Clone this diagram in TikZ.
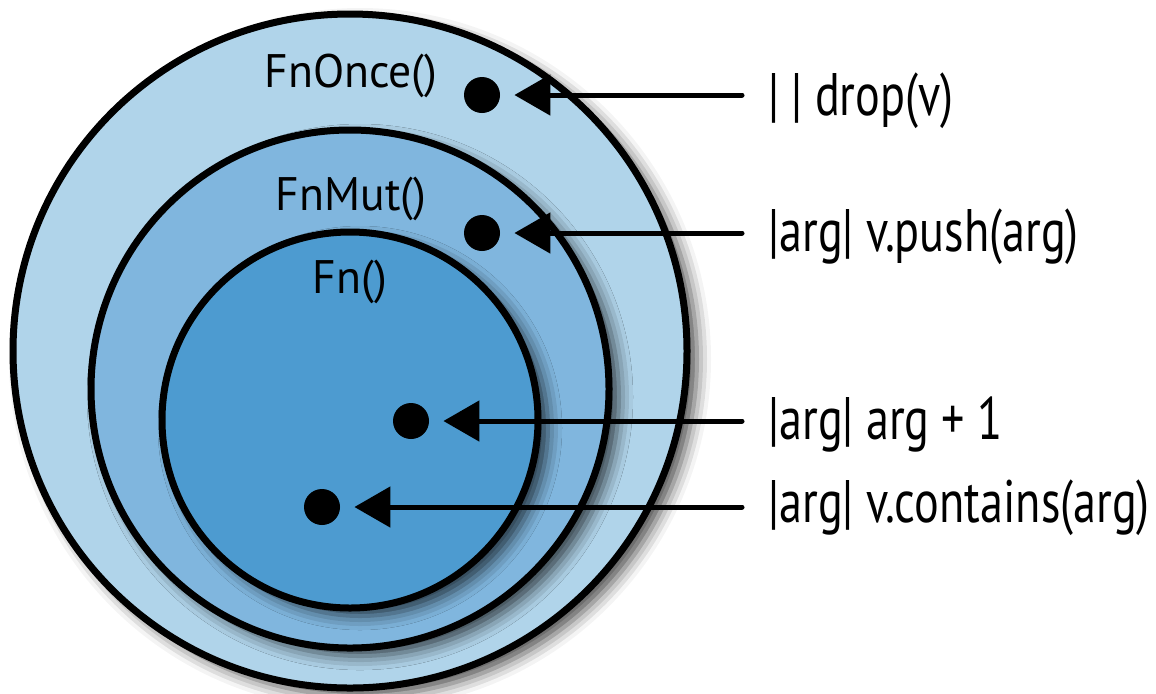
\documentclass[tikz,border=0pt]{standalone}
\usepackage{fontspec}
\setmainfont{PT Sans}
\newfontfamily\traitfont{PT Sans}[FakeStretch=0.97]
\newfontfamily\closfont{PT Sans}[FakeStretch=0.77]
\usetikzlibrary{arrows.meta,shadows.blur}
\definecolor{oncec}{HTML}{B0D4EA}
\definecolor{mutc}{HTML}{80B6DE}
\definecolor{fnc}{HTML}{4D9BD0}
\tikzset{
  ring/.style ={circle,draw=black,line width=3.5pt,inner sep=0pt,
                blur shadow={shadow xshift=5pt,shadow yshift=-4pt,
                             shadow blur radius=7pt,shadow opacity=70}},
  dotb/.style ={circle,fill=black,inner sep=0pt,minimum size=18pt},
  trait/.style={font=\traitfont\fontsize{23.5}{28}\selectfont,anchor=base,inner sep=0pt},
  clo/.style  ={font=\closfont\fontsize{30}{36}\selectfont,anchor=base west,
                inner ysep=0pt,inner xsep=13pt},
  ar/.style   ={-{Triangle[length=18pt,width=20pt]},line width=2.5pt,
                line cap=round,shorten >=7pt},
}

\begin{document}
\begin{tikzpicture}[x=0.5pt,y=-0.5pt]
\useasboundingbox (0,0) rectangle (1156,693);

% ============================ traits ====================================
\node[ring,fill=oncec,minimum size=337pt] (once) at (350,351) {};
\node[ring,fill=mutc,minimum size=259pt]  (mut)  at (350,389) {};
\node[ring,fill=fnc,minimum size=188pt]   (fn)   at (350,420) {};
\node[trait] (tonce) at (351,87)  {FnOnce()};
\node[trait] (tmut)  at (351,210) {FnMut()};
\node[trait] (tfn)   at (350,293) {Fn()};

% ============================ closures ==================================
\node[dotb] (d1) at (482,95)  {};
\node[dotb] (d2) at (482,233) {};
\node[dotb] (d3) at (411,421) {};
\node[dotb] (d4) at (322,507) {};
\node[clo] (c1) at (742,115) {| | drop(v)};
\node[clo] (c2) at (742,251) {|arg| v.push(arg)};
\node[clo] (c3) at (742,439) {|arg| arg + 1};
\node[clo] (c4) at (742,522) {|arg| v.contains(arg)};
\draw[ar](c1.west|-d1)--(d1); \draw[ar](c2.west|-d2)--(d2);
\draw[ar](c3.west|-d3)--(d3); \draw[ar](c4.west|-d4)--(d4);
\end{tikzpicture}
\end{document}
